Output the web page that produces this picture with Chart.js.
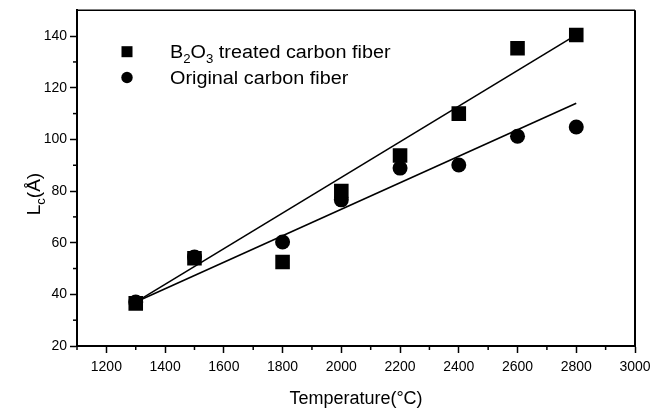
<!DOCTYPE html>
<html><head><meta charset="utf-8">
<script src="https://cdn.jsdelivr.net/npm/chart.js@4"></script>
<style>html,body{margin:0;padding:0;background:#fff}canvas{display:block}</style>
</head><body>
<canvas id="c" width="651" height="410"></canvas>
<script>
// ---- data ----
const temperatures = [1300, 1500, 1800, 2000, 2200, 2400, 2600, 2800];
const lcTreated    = [36.5, 54, 52.5, 80, 93.8, 110, 135.3, 140.4];
const lcOriginal   = [37, 54.5, 60.3, 76.6, 88.9, 90.1, 101.2, 104.8];
const fitX         = [1300, 2800];
const fitTreated   = [37, 140.5];
const fitOriginal  = [37, 114];
const xTickValues  = [1200, 1400, 1600, 1800, 2000, 2200, 2400, 2600, 2800, 3000];
const xMinorValues = [1100, 1300, 1500, 1700, 1900, 2100, 2300, 2500, 2700, 2900];
const yTickValues  = [20, 40, 60, 80, 100, 120, 140];
const yMinorValues = [30, 50, 70, 90, 110, 130];
const legendTreated  = [['B', 0], ['2', 1], ['O', 0], ['3', 1], [' treated carbon fiber', 0]];
const legendOriginal = [['Original carbon fiber', 0]];
const xTitle = 'Temperature(°C)';
const yTitle = [['L', 0], ['c', 1], ['(Å)', 0]];

const FONT = 'Liberation Sans, Arial, sans-serif';
const pts = (xs, ys) => xs.map((x, i) => ({x: x, y: ys[i]}));

function drawSegments(ctx, segs, x, y, size, sx) {
  ctx.save();
  ctx.translate(x, y);
  ctx.scale(sx, 1);
  let cx = 0;
  for (const [t, sub] of segs) {
    ctx.font = (sub ? Math.round(size * 0.68) : size) + 'px ' + FONT;
    ctx.fillText(t, cx, sub ? size * 0.25 : 0);
    cx += ctx.measureText(t).width;
  }
  ctx.restore();
  return cx * sx;
}
function segWidth(ctx, segs, size) {
  let w = 0;
  for (const [t, sub] of segs) {
    ctx.font = (sub ? Math.round(size * 0.68) : size) + 'px ' + FONT;
    w += ctx.measureText(t).width;
  }
  return w;
}

const decorPlugin = {
  id: 'decor',
  afterDraw(chart) {
    const ctx = chart.ctx, a = chart.chartArea;
    const xs = chart.scales.x, ys = chart.scales.y;
    ctx.save();
    ctx.strokeStyle = '#000';
    ctx.fillStyle = '#000';
    // top and right frame
    ctx.lineWidth = 1.5;
    ctx.beginPath(); ctx.moveTo(a.left, a.top); ctx.lineTo(a.right, a.top); ctx.stroke();
    ctx.lineWidth = 2;
    ctx.beginPath(); ctx.moveTo(a.right, a.top); ctx.lineTo(a.right, a.bottom); ctx.stroke();
    // minor ticks
    ctx.lineWidth = 1.5;
    for (const v of xMinorValues) {
      const px = xs.getPixelForValue(v);
      ctx.beginPath(); ctx.moveTo(px, a.bottom); ctx.lineTo(px, a.bottom + 4); ctx.stroke();
    }
    for (const v of yMinorValues) {
      const py = ys.getPixelForValue(v);
      ctx.beginPath(); ctx.moveTo(a.left - 4, py); ctx.lineTo(a.left, py); ctx.stroke();
    }
    // y title (rotated, with subscript)
    ctx.textBaseline = 'alphabetic';
    const yw = segWidth(ctx, yTitle, 19);
    ctx.save();
    ctx.translate(40, 194 + yw / 2);
    ctx.rotate(-Math.PI / 2);
    drawSegments(ctx, yTitle, 0, 0, 19, 1);
    ctx.restore();
    // legend
    const lx = 127;
    const y1 = 51.7, y2 = 77.5;
    ctx.fillRect(lx - 5.5, y1 - 5.5, 11, 11);
    ctx.beginPath(); ctx.arc(lx, y2, 5.7, 0, Math.PI * 2); ctx.fill();
    drawSegments(ctx, legendTreated, 170, y1 + 6.5, 18, 1.1);
    drawSegments(ctx, legendOriginal, 170, y2 + 6.5, 18, 1.1);
    ctx.restore();
  }
};

new Chart(document.getElementById('c'), {
  type: 'scatter',
  data: {
    datasets: [
      {label: 'Fit (B2O3 treated)', data: pts(fitX, fitTreated), showLine: true, borderColor: '#000',
       borderWidth: 1.6, pointRadius: 0, fill: false},
      {label: 'Fit (original)', data: pts(fitX, fitOriginal), showLine: true, borderColor: '#000',
       borderWidth: 1.6, pointRadius: 0, fill: false},
      {label: 'B2O3 treated carbon fiber', data: pts(temperatures, lcTreated), pointStyle: 'rect',
       pointRadius: 10.3, backgroundColor: '#000', borderColor: '#000', borderWidth: 0},
      {label: 'Original carbon fiber', data: pts(temperatures, lcOriginal), pointStyle: 'circle',
       pointRadius: 7.5, backgroundColor: '#000', borderColor: '#000', borderWidth: 0}
    ]
  },
  options: {
    responsive: false,
    animation: false,
    events: [],
    layout: {padding: {top: 10, right: 16, left: 0, bottom: 0}},
    plugins: {legend: {display: false}, tooltip: {enabled: false}},
    scales: {
      x: {
        type: 'linear', min: 1100, max: 3000,
        afterBuildTicks: s => { s.ticks = xTickValues.map(v => ({value: v})); },
        afterFit: s => { s.height = 64; s.paddingLeft = 0; s.paddingRight = 0; },
        grid: {drawOnChartArea: false, tickLength: 7, tickColor: '#000', tickWidth: 1.5},
        border: {color: '#000', width: 2},
        ticks: {color: '#000', font: {family: FONT, size: 14}, padding: 6, maxRotation: 0,
                autoSkip: false, callback: v => String(v)},
        title: {display: true, text: xTitle, color: '#000', font: {family: FONT, size: 18},
                padding: {top: 4, bottom: 0}}
      },
      y: {
        type: 'linear', min: 20, max: 150,
        afterBuildTicks: s => { s.ticks = yTickValues.map(v => ({value: v})); },
        afterFit: s => { s.width = 77; s.paddingTop = 0; s.paddingBottom = 0; },
        grid: {drawOnChartArea: false, tickLength: 7, tickColor: '#000', tickWidth: 1.5},
        border: {color: '#000', width: 2},
        ticks: {color: '#000', font: {family: FONT, size: 14}, padding: 3, callback: v => String(v)}
      }
    }
  },
  plugins: [decorPlugin]
});
</script>
</body></html>
